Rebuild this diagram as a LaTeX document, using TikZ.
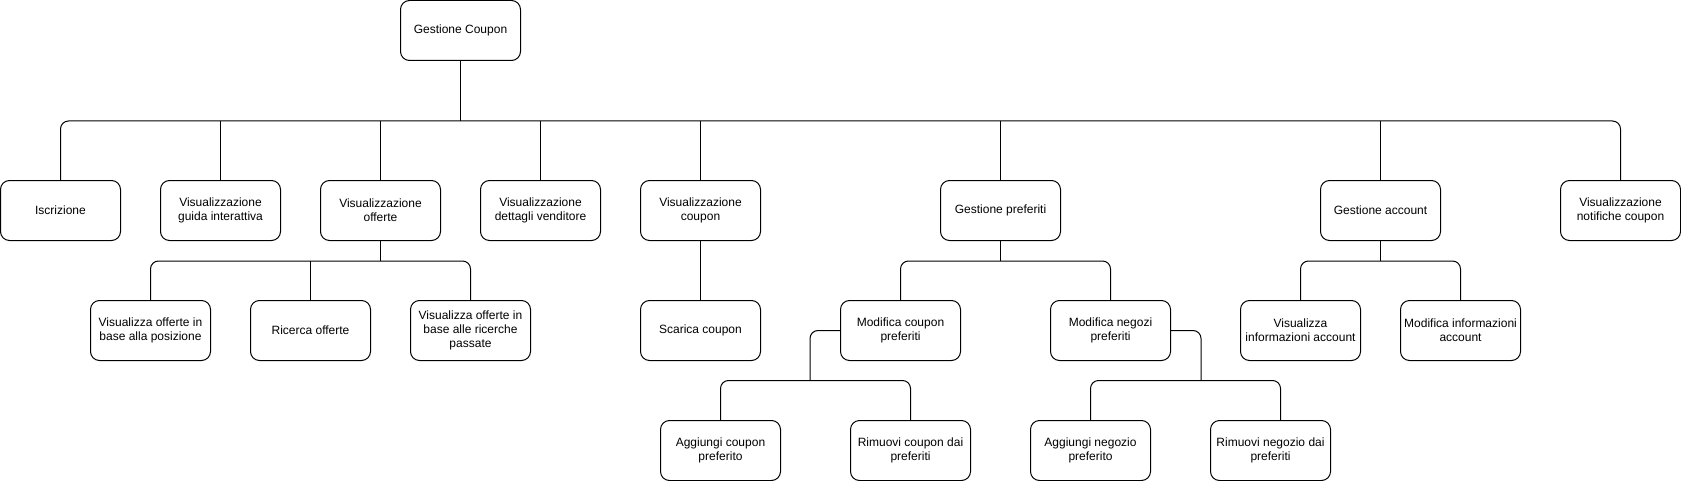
\documentclass[tikz,border=0pt]{standalone}
\usepackage{fontspec}
\setmainfont{Liberation Sans}
\usepackage{tikz}
\usetikzlibrary{positioning}
\usetikzlibrary{calc}

\tikzset{
  box/.style={draw, fill=white, line width=0.75pt, rounded corners=6.75pt,
    minimum width=90pt, minimum height=45pt, inner sep=0pt, align=center,
    font=\fontsize{9}{10.5}\selectfont},
  link/.style={draw, line width=0.75pt, rounded corners=6pt}
}

\begin{document}
\begin{tikzpicture}[x=0.75pt, y=-0.75pt]
 \useasboundingbox (-0.5,-0.5) rectangle (1680.5,480.5);

 \node[box] (root) at (460,30) {Gestione Coupon};

 \foreach \n/\x/\t in {isc/60/{Iscrizione}, guida/220/{Visualizzazione\\guida interattiva},
    offerte/380/{Visualizzazione\\offerte}, venditore/540/{Visualizzazione\\dettagli venditore},
    vcoupon/700/{Visualizzazione\\coupon}, pref/1000/{Gestione preferiti},
    account/1380/{Gestione account}, notifiche/1620/{Visualizzazione\\notifiche coupon}}{
   \node[box] (\n) at (\x,210) {\t};
 }

 \foreach \n/\x/\t in {posizione/150/{Visualizza offerte in\\base alla posizione}, ricerca/310/{Ricerca offerte},
    passate/470/{Visualizza offerte in\\base alle ricerche\\passate}, scarica/700/{Scarica coupon},
    modcoupon/900/{Modifica coupon\\preferiti}, modnegozi/1110/{Modifica negozi\\preferiti},
    visinfo/1300/{Visualizza\\informazioni account}, modinfo/1460/{Modifica informazioni\\account}}{
   \node[box] (\n) at (\x,330) {\t};
 }

 \foreach \n/\x/\t in {aggcoupon/720/{Aggiungi coupon\\preferito}, rimcoupon/910/{Rimuovi coupon dai\\preferiti},
    aggnegozio/1090/{Aggiungi negozio\\preferito}, rimnegozio/1270/{Rimuovi negozio dai\\preferiti}}{
   \node[box] (\n) at (\x,450) {\t};
 }

 % bus points
 \coordinate (busroot) at ($(root.south)+(0,60)$);
 \coordinate (busofferte) at ($(offerte.south)+(0,20)$);
 \coordinate (buspref) at ($(pref.south)+(0,20)$);
 \coordinate (busaccount) at ($(account.south)+(0,20)$);
 \coordinate (buscoupon) at ($(modcoupon.west)+(-30,50)$);
 \coordinate (busnegozi) at ($(modnegozi.east)+(30,50)$);
 \coordinate (rimtop) at ([xshift=7.5pt]rimnegozio.north);

 \draw[link] (isc.north) |- (busroot) -| (notifiche.north);
 \draw[link] (root.south) -- (busroot);
 \foreach \c in {guida, offerte, venditore, vcoupon, pref, account}{
   \draw[link] (\c.north) -- (\c.north |- busroot);
 }

 \draw[link] (posizione.north) |- (busofferte) -| (passate.north);
 \draw[link] (offerte.south) -- (busofferte);
 \draw[link] (ricerca.north) -- (ricerca.north |- busofferte);

 \draw[link] (vcoupon.south) -- (scarica.north);

 \draw[link] (modcoupon.north) |- (buspref) -| (modnegozi.north);
 \draw[link] (pref.south) -- (buspref);

 \draw[link] (visinfo.north) |- (busaccount) -| (modinfo.north);
 \draw[link] (account.south) -- (busaccount);

 \draw[link] (aggcoupon.north) |- (buscoupon) -| (rimcoupon.north);
 \draw[link] (modcoupon.west) -| (buscoupon);

 \draw[link] (aggnegozio.north) |- (busnegozi) -| (rimtop);
 \draw[link] (modnegozi.east) -| (busnegozi);

\end{tikzpicture}
\end{document}
